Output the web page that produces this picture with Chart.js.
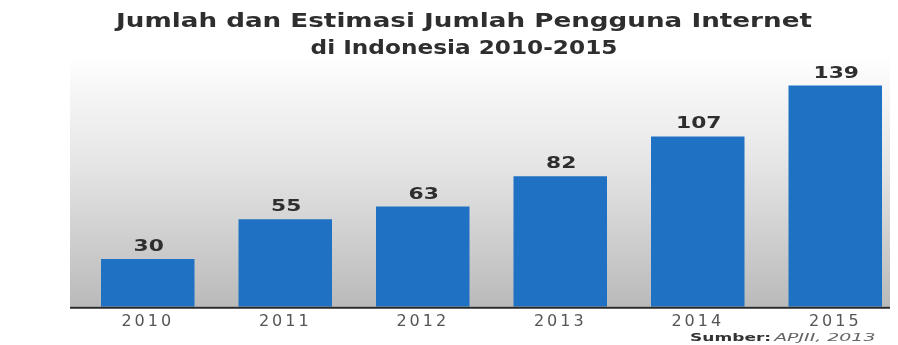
<!DOCTYPE html>
<html>
<head>
<meta charset="utf-8">
<script src="https://cdn.jsdelivr.net/npm/chart.js@4/dist/chart.umd.min.js"></script>
<style>
  html, body { margin: 0; padding: 0; background: #fff; overflow: hidden; }
  #wrap { width: 905px; height: 345px; }
</style>
</head>
<body>
<div id="wrap"><canvas id="chart"></canvas></div>
<script>
const years = ['2010', '2011', '2012', '2013', '2014', '2015'];
const users = [30, 55, 63, 82, 107, 139];
const titleLines = ['Jumlah dan Estimasi Jumlah Pengguna Internet', 'di Indonesia 2010-2015'];
const sourceLabel = 'Sumber:';
const sourceText = 'APJII, 2013';

const barColor = '#1f72c3';
const textDark = '#2e2e2e';

// the original artwork has horizontally stretched lettering
function wideText(ctx, text, x, y, sx, align) {
  ctx.save();
  ctx.translate(x, y);
  ctx.scale(sx, 1);
  ctx.textAlign = align;
  ctx.fillText(text, 0, 0);
  ctx.restore();
}

const decorations = {
  id: 'decorations',
  beforeDraw(chart) {
    const { ctx, chartArea } = chart;
    ctx.save();
    const grad = ctx.createLinearGradient(0, 55, 0, chartArea.bottom);
    grad.addColorStop(0, '#ffffff');
    grad.addColorStop(0.45, '#e4e4e4');
    grad.addColorStop(1, '#bababa');
    ctx.fillStyle = grad;
    ctx.fillRect(70, 55, 820, chartArea.bottom - 55);
    ctx.restore();
    // spacing for the axis labels
    ctx.letterSpacing = '3px';
  },
  afterDatasetsDraw(chart) {
    const { ctx, chartArea } = chart;
    const meta = chart.getDatasetMeta(0);
    ctx.save();
    ctx.letterSpacing = '0px';
    ctx.strokeStyle = '#2a2a2a';
    ctx.lineWidth = 2;
    ctx.beginPath();
    ctx.moveTo(70, chartArea.bottom + 1);
    ctx.lineTo(890, chartArea.bottom + 1);
    ctx.stroke();

    ctx.fillStyle = textDark;
    ctx.textBaseline = 'alphabetic';
    ctx.font = 'bold 15px "DejaVu Sans"';
    meta.data.forEach((bar, i) => {
      wideText(ctx, String(users[i]), bar.x + 1, bar.y - 8, 1.45, 'center');
    });

    ctx.font = 'bold 20px "DejaVu Sans"';
    const titleStretch = [1.31, 1.16];
    titleLines.forEach((line, i) => {
      wideText(ctx, line, 464, 27 + i * 27, titleStretch[i], 'center');
    });

    ctx.fillStyle = '#333';
    ctx.font = 'bold 11px "DejaVu Sans"';
    wideText(ctx, sourceLabel, 690, 341, 1.55, 'left');
    const w = ctx.measureText(sourceLabel).width * 1.55 + 3;
    ctx.fillStyle = '#666';
    ctx.font = 'italic 11px "DejaVu Sans"';
    wideText(ctx, sourceText, 690 + w, 341, 1.72, 'left');
    ctx.restore();
  }
};

new Chart(document.getElementById('chart'), {
  type: 'bar',
  data: {
    labels: years,
    datasets: [{
      data: users,
      backgroundColor: barColor,
      borderWidth: 0,
      categoryPercentage: 1,
      barPercentage: 0.68,
    }],
  },
  options: {
    responsive: true,
    maintainAspectRatio: false,
    animation: false,
    layout: { padding: { left: 79, right: 1, top: 68, bottom: 17 } },
    plugins: {
      legend: { display: false },
      title: { display: false },
      tooltip: { enabled: false },
    },
    scales: {
      x: {
        grid: { display: false },
        border: { display: false },
        ticks: {
          color: '#555',
          padding: -3,
          font: { family: 'DejaVu Sans', size: 16 },
        },
      },
      y: {
        display: false,
        min: 0,
        max: 150,
      },
    },
  },
  plugins: [decorations],
});
</script>
</body>
</html>
